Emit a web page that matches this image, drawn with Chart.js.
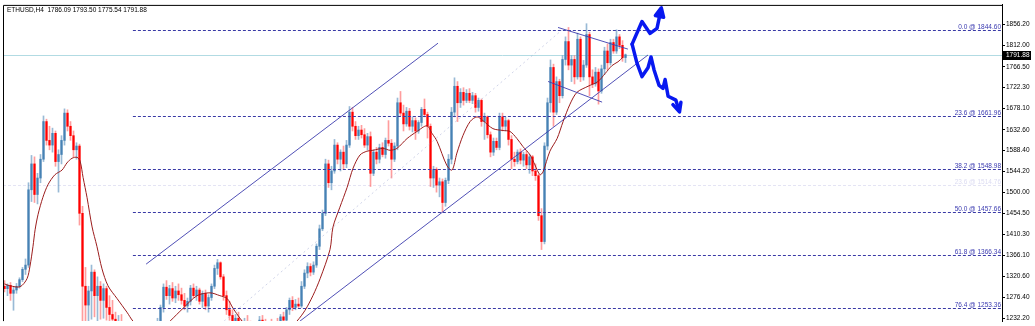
<!DOCTYPE html>
<html>
<head>
<meta charset="utf-8">
<script src="https://cdn.jsdelivr.net/npm/chart.js@4.4.1/dist/chart.umd.min.js"></script>
<style>
  html, body { margin: 0; padding: 0; background: #ffffff; }
  #wrap { width: 1035px; height: 326px; }
</style>
</head>
<body>
<div id="wrap"><canvas id="priceChart" width="1035" height="326"></canvas></div>
<script>

// ---- data ----

const symbolTitle = "ETHUSD,H4  1786.09 1793.50 1775.54 1791.88";

const tickValues = [1856.20, 1812.00, 1766.50, 1722.30, 1678.10, 1632.60, 1588.40, 1544.20,
    1500.00, 1454.50, 1410.30, 1366.10, 1320.60, 1276.40, 1232.20];

const lastPrice = 1791.88;

const candleOpen = [
    1300,1295,1302,1285,1292,1300,1314,1336,1345,1505,1560,1495,1530,1570,1650,1610,1600,1625,1565,1580,
    1610,1668,1640,1620,1590,1598,1455,1300,1260,1290,1330,1280,1300,1270,1295,1255,1240,1230,1215,1225,
    1205,1195,1185,1170,1190,1205,1178,1192,1212,1188,1200,1218,1225,1255,1298,1280,1295,1275,1290,1282,
    1270,1258,1268,1296,1280,1292,1268,1285,1258,1276,1300,1338,1350,1320,1280,1250,1238,1222,1232,1215,
    1205,1225,1212,1200,1190,1205,1228,1218,1208,1215,1210,1220,1215,1235,1228,1250,1270,1255,1262,1258,
    1300,1328,1342,1330,1345,1385,1422,1455,1560,1520,1545,1600,1570,1585,1560,1600,1670,1640,1620,1632,
    1622,1600,1618,1540,1585,1570,1595,1580,1610,1604,1570,1598,1690,1668,1645,1672,1640,1652,1630,1648,
    1676,1665,1640,1530,1548,1515,1522,1478,1525,1570,1670,1725,1690,1712,1695,1710,1695,1705,1680,1695,
    1650,1660,1622,1585,1608,1595,1660,1640,1652,1612,1570,1565,1585,1568,1580,1558,1575,1545,1535,1450,
    1395,1598,1690,1765,1670,1735,1705,1782,1820,1770,1782,1745,1825,1745,1770,1835,1745,1730,1755,1715,
    1762,1800,1775,1818,1800,1830,1812,1786.09
];

const candleHigh = [
    1312,1305,1308,1298,1306,1318,1340,1358,1520,1578,1575,1540,1580,1662,1655,1640,1636,1630,1590,1620,
    1677,1675,1650,1630,1605,1602,1470,1340,1300,1345,1335,1320,1310,1305,1300,1280,1270,1245,1238,1240,
    1220,1212,1200,1195,1215,1210,1198,1220,1218,1205,1225,1232,1260,1305,1312,1302,1308,1300,1305,1296,
    1285,1275,1302,1305,1300,1296,1290,1292,1282,1305,1345,1357,1352,1325,1290,1268,1250,1240,1245,1228,
    1232,1238,1226,1215,1210,1236,1238,1230,1222,1230,1225,1232,1240,1245,1255,1275,1278,1272,1275,1310,
    1335,1350,1348,1352,1390,1430,1462,1570,1568,1555,1612,1605,1590,1598,1610,1682,1680,1650,1640,1642,
    1635,1625,1628,1590,1595,1602,1605,1615,1652,1612,1605,1700,1714,1685,1680,1678,1660,1658,1652,1680,
    1698,1670,1645,1555,1552,1530,1528,1530,1580,1680,1743,1735,1720,1722,1718,1720,1712,1710,1700,1698,
    1668,1662,1628,1615,1615,1668,1668,1660,1655,1620,1585,1590,1592,1585,1588,1580,1578,1560,1538,1465,
    1605,1700,1781,1772,1745,1740,1790,1830,1850,1790,1790,1838,1830,1780,1858,1840,1760,1765,1762,1770,
    1808,1815,1825,1825,1845,1835,1822,1793.5
];

const candleLow = [
    1288,1280,1270,1249,1285,1296,1310,1325,1340,1480,1478,1475,1520,1565,1600,1590,1585,1555,1500,1560,
    1600,1630,1610,1575,1570,1430,1220,1225,1215,1230,1235,1222,1230,1232,1228,1212,1205,1195,1190,1185,
    1180,1175,1160,1155,1180,1170,1165,1185,1180,1172,1195,1205,1215,1245,1272,1262,1268,1265,1270,1262,
    1250,1245,1260,1275,1270,1262,1255,1250,1245,1270,1295,1325,1315,1270,1240,1228,1215,1205,1210,1195,
    1200,1208,1190,1180,1182,1198,1212,1200,1195,1205,1198,1208,1210,1220,1225,1240,1248,1250,1255,1255,
    1295,1318,1322,1325,1340,1378,1418,1450,1510,1505,1540,1560,1545,1548,1552,1595,1630,1612,1612,1615,
    1595,1590,1512,1535,1560,1562,1575,1572,1598,1530,1565,1590,1662,1630,1640,1632,1628,1612,1625,1640,
    1660,1615,1512,1510,1500,1490,1458,1470,1518,1560,1660,1650,1680,1685,1690,1690,1688,1670,1672,1640,
    1612,1615,1575,1578,1590,1590,1630,1630,1600,1550,1555,1560,1560,1555,1550,1540,1535,1525,1440,1378,
    1390,1590,1670,1640,1665,1690,1700,1770,1760,1735,1730,1740,1735,1738,1765,1705,1722,1725,1687,1710,
    1750,1760,1770,1795,1795,1805,1778,1775.54
];

const candleClose = [
    1295,1302,1285,1292,1300,1314,1336,1345,1505,1560,1495,1530,1570,1650,1610,1600,1625,1565,1580,1610,
    1668,1640,1620,1590,1598,1455,1300,1260,1290,1330,1280,1300,1270,1295,1255,1240,1230,1215,1225,1205,
    1195,1185,1170,1190,1205,1178,1192,1212,1188,1200,1218,1225,1255,1298,1280,1295,1275,1290,1282,1270,
    1258,1268,1296,1280,1292,1268,1285,1258,1276,1300,1338,1350,1320,1280,1250,1238,1222,1232,1215,1205,
    1225,1212,1200,1190,1205,1228,1218,1208,1215,1210,1220,1215,1235,1228,1250,1270,1255,1262,1258,1300,
    1328,1342,1330,1345,1385,1422,1455,1560,1520,1545,1600,1570,1585,1560,1600,1670,1640,1620,1632,1622,
    1600,1618,1540,1585,1570,1595,1580,1610,1604,1570,1598,1690,1668,1645,1672,1640,1652,1630,1648,1676,
    1665,1640,1530,1548,1515,1522,1478,1525,1570,1670,1725,1690,1712,1695,1710,1695,1705,1680,1695,1650,
    1660,1622,1585,1608,1595,1660,1640,1652,1612,1570,1565,1585,1568,1580,1558,1575,1545,1535,1450,1395,
    1598,1690,1765,1670,1735,1705,1782,1820,1770,1782,1745,1825,1745,1770,1835,1745,1730,1755,1715,1762,
    1800,1775,1818,1800,1830,1812,1786.09,1791.88
];

// moving average, read at the bar positions where it could be seen
const maBar = [0, 1.8, 5.2, 7.5, 8.5, 9.5, 10.2, 11.2, 12.8, 14.5, 16.8, 19.2, 20.8, 22.5, 24.2, 25.2,
    26.2, 27.5, 29.2, 30.8, 32.5, 34.5, 37.5, 40.8, 42.8, 48.5, 55.2, 59.5, 64.2, 68.5, 71.8, 74.2,
    76.2, 78.5, 81.8, 88.5, 95.2, 97.5, 100.2, 102.8, 105.2, 108.5, 109.5, 111.8, 114.2, 116.2, 118.5,
    120.8, 122.8, 126.2, 128.5, 130.8, 134.2, 137.5, 140.8, 142.5, 144.2, 147.5, 149.2, 150.8, 152.8,
    155.2, 157.5, 159.5, 162.8, 166.2, 168.5, 170.8, 172.8, 175.2, 176.8, 178.5, 179.5, 181.8, 184.2,
    186.2, 188.5, 190.8, 194.5, 197.8, 200.2, 202.5, 204.5, 206.2];
const maValue = [1305, 1301, 1299, 1316, 1343, 1385, 1420, 1453, 1489, 1516, 1537, 1547, 1562, 1572, 1574, 1566,
    1531, 1489, 1426, 1385, 1337, 1301, 1274, 1245, 1226, 1186, 1226, 1253, 1280, 1286, 1280, 1274,
    1253, 1232, 1207, 1197, 1213, 1226, 1249, 1280, 1316, 1378, 1426, 1468, 1510, 1551, 1579,
    1587, 1589, 1593, 1589, 1593, 1614, 1629, 1641, 1625, 1608, 1556, 1547, 1583, 1620,
    1650, 1660, 1652, 1635, 1631, 1629, 1614, 1597, 1579, 1558, 1537, 1543, 1587, 1614,
    1650, 1687, 1712, 1725, 1735, 1752, 1769, 1777, 1787];

// fibonacci retracement levels
const fibRatio = ["0.0", "23.6", "38.2", "50.0", "61.8", "76.4"];
const fibLevel = [1844.60, 1661.96, 1548.98, 1457.66, 1366.34, 1253.36];
const fibStartBar = 42.8;
const faintFibRatio = "23.6";
const faintFibLevel = 1514.76;

// trend lines as [bar, price] pairs
const channelUpper = [[47.2, 1347], [144.5, 1816.6]];
const channelLower = [[98.5, 1226], [214.5, 1791.5]];
const fibBaseline = [[73.2, 1226], [185.8, 1844.6]];
const wedgeUpper = [[184.5, 1850], [207.8, 1804]];
const wedgeLower = [[181.2, 1735.2], [199.2, 1691.3]];

// hand drawn arrows
const arrowUp = [[209.2, 1814.5], [212.5, 1862.5], [215.2, 1837.4], [217.5, 1847.9], [218.8, 1887.5]];
const arrowDown = [[209.2, 1814.5], [210.8, 1774.8], [212.5, 1745.6], [214.5, 1764.4], [215.5, 1787.3],
    [216.5, 1760.2], [218.2, 1726.8], [219.5, 1720.6], [220.2, 1739.3], [221.2, 1703.9],
    [223.8, 1695.5], [224.8, 1674.6]];

const totalSlots = 333;

// ---- chart ----

const bullColor = "#4682b4";
const bearColor = "#ff0000";

const bodyColors = candleClose.map((c, i) => c >= candleOpen[i] ? bullColor : bearColor);
const wickColors = candleClose.map((c, i) => c >= candleOpen[i] ? "rgba(70,130,180,0.55)" : "rgba(255,60,60,0.5)");

const wickData = candleLow.map((l, i) => ({ x: i, y: [l, candleHigh[i]] }));
const bodyData = candleOpen.map((o, i) => ({ x: i, y: [o, candleClose[i]] }));
const maData = maBar.map((b, k) => ({ x: b, y: maValue[k] }));

const uiFont = '"Liberation Sans", Arial, sans-serif';

function linePath(ctx, chart, pts) {
    const x = chart.scales.x, y = chart.scales.y;
    ctx.beginPath();
    pts.forEach((p, k) => {
        const px = x.getPixelForValue(p[0]);
        const py = y.getPixelForValue(p[1]);
        if (k === 0) ctx.moveTo(px, py); else ctx.lineTo(px, py);
    });
    ctx.stroke();
}

function arrowHead(ctx, chart, pts, filled) {
    const x = chart.scales.x, y = chart.scales.y;
    const a = pts[pts.length - 2], b = pts[pts.length - 1];
    const x1 = x.getPixelForValue(a[0]), y1 = y.getPixelForValue(a[1]);
    const x2 = x.getPixelForValue(b[0]), y2 = y.getPixelForValue(b[1]);
    const ang = Math.atan2(y2 - y1, x2 - x1);
    const len = 8;
    ctx.beginPath();
    ctx.moveTo(x2 - len * Math.cos(ang - 0.55), y2 - len * Math.sin(ang - 0.55));
    ctx.lineTo(x2 + 2 * Math.cos(ang), y2 + 2 * Math.sin(ang));
    ctx.lineTo(x2 - len * Math.cos(ang + 0.55), y2 - len * Math.sin(ang + 0.55));
    if (filled) {
        ctx.closePath();
        ctx.fill();
    }
    ctx.stroke();
}

const backdrop = {
    id: "backdrop",
    beforeDatasetsDraw(chart) {
        const { ctx, chartArea: a, scales: { y } } = chart;
        ctx.save();
        // faint second fib level
        ctx.strokeStyle = "#e4e4f4";
        ctx.lineWidth = 1;
        ctx.setLineDash([3, 2]);
        const fy = Math.round(y.getPixelForValue(faintFibLevel)) + 0.5;
        ctx.beginPath();
        ctx.moveTo(a.left, fy);
        ctx.lineTo(a.right, fy);
        ctx.stroke();
        ctx.setLineDash([]);
        ctx.fillStyle = "#dcdcf2";
        ctx.font = "6.5px " + uiFont;
        ctx.textAlign = "right";
        ctx.textBaseline = "bottom";
        ctx.fillText(faintFibRatio + " @ " + faintFibLevel.toFixed(2), a.right - 1, fy - 0.5);
        // bid line
        const py = Math.round(y.getPixelForValue(lastPrice)) + 0.5;
        ctx.strokeStyle = "#b2dbe3";
        ctx.beginPath();
        ctx.moveTo(a.left, py);
        ctx.lineTo(a.right, py);
        ctx.stroke();
        ctx.restore();
    }
};

const overlay = {
    id: "overlay",
    afterDatasetsDraw(chart) {
        const { ctx, chartArea: a, scales: { x, y } } = chart;
        ctx.save();
        ctx.beginPath();
        ctx.rect(a.left, a.top, a.right - a.left, a.bottom - a.top);
        ctx.clip();

        // fib levels
        ctx.lineWidth = 1;
        ctx.font = "6.5px " + uiFont;
        ctx.textAlign = "right";
        ctx.textBaseline = "bottom";
        const fx = x.getPixelForValue(fibStartBar);
        fibLevel.forEach((lv, k) => {
            const ly = Math.round(y.getPixelForValue(lv)) + 0.5;
            ctx.strokeStyle = "#3a3aa6";
            ctx.setLineDash([3, 2]);
            ctx.beginPath();
            ctx.moveTo(fx, ly);
            ctx.lineTo(a.right, ly);
            ctx.stroke();
            ctx.setLineDash([]);
            ctx.fillStyle = "#3a3ab0";
            ctx.fillText(fibRatio[k] + " @ " + lv.toFixed(2), a.right - 1, ly - 0.5);
        });

        // fib baseline
        ctx.strokeStyle = "rgba(150,160,205,0.45)";
        ctx.setLineDash([2, 3]);
        linePath(ctx, chart, fibBaseline);
        ctx.setLineDash([]);

        // channel and wedge
        ctx.strokeStyle = "#3c3cae";
        ctx.lineWidth = 0.9;
        linePath(ctx, chart, channelUpper);
        linePath(ctx, chart, channelLower);
        linePath(ctx, chart, wedgeUpper);
        linePath(ctx, chart, wedgeLower);

        // arrows
        ctx.strokeStyle = "#0818f0";
        ctx.fillStyle = "#0818f0";
        ctx.lineWidth = 3.5;
        ctx.lineJoin = "round";
        ctx.lineCap = "round";
        linePath(ctx, chart, arrowUp);
        linePath(ctx, chart, arrowDown);
        arrowHead(ctx, chart, arrowUp, true);
        arrowHead(ctx, chart, arrowDown, false);
        ctx.restore();
    },
    afterDraw(chart) {
        const { ctx, chartArea: a, scales: { y } } = chart;
        ctx.save();
        // frame
        ctx.strokeStyle = "#000000";
        ctx.lineWidth = 1;
        ctx.beginPath();
        ctx.moveTo(a.left + 0.5, a.bottom);
        ctx.lineTo(a.left + 0.5, a.top + 0.5);
        ctx.lineTo(a.right + 0.5, a.top + 0.5);
        ctx.lineTo(a.right + 0.5, a.bottom);
        ctx.stroke();
        // title
        ctx.fillStyle = "#000000";
        ctx.font = "6.5px " + uiFont;
        ctx.textAlign = "left";
        ctx.textBaseline = "middle";
        ctx.fillText(symbolTitle, a.left + 4, 10);
        // bid price box
        const py = Math.round(y.getPixelForValue(lastPrice));
        ctx.fillStyle = "#000000";
        ctx.fillRect(a.right + 1, py - 4, 28, 9);
        ctx.fillStyle = "#ffffff";
        ctx.fillText(lastPrice.toFixed(2), a.right + 4, py + 0.5);
        ctx.restore();
    }
};

const ctx = document.getElementById("priceChart");

new Chart(ctx, {
    type: "bar",
    data: {
        datasets: [
            {
                type: "line",
                label: "MA",
                data: maData,
                borderColor: "#9b1c1c",
                borderWidth: 1,
                pointRadius: 0,
                tension: 0.3,
                order: 0
            },
            {
                label: "body",
                data: bodyData,
                backgroundColor: bodyColors,
                barThickness: 1.6,
                minBarLength: 1,
                grouped: false,
                order: 1
            },
            {
                label: "wick",
                data: wickData,
                backgroundColor: wickColors,
                barThickness: 1,
                grouped: false,
                order: 2
            }
        ]
    },
    options: {
        responsive: false,
        animation: false,
        devicePixelRatio: 1,
        layout: { padding: { left: 3, top: 4, right: 0, bottom: 0 } },
        plugins: {
            legend: { display: false },
            tooltip: { enabled: false }
        },
        scales: {
            x: {
                type: "linear",
                display: false,
                offset: false,
                min: -0.5,
                max: totalSlots - 0.5
            },
            y: {
                position: "right",
                min: 1225.94,
                max: 1897.94,
                afterBuildTicks: (s) => { s.ticks = tickValues.map(v => ({ value: v })); },
                afterFit: (s) => { s.width = 33; },
                grid: { drawOnChartArea: false, tickLength: 3, color: "#000000" },
                border: { display: true, color: "#000000" },
                ticks: {
                    autoSkip: false,
                    padding: 1,
                    color: "#000000",
                    font: { family: "Liberation Sans", size: 6.5 },
                    callback: (v) => Number(v).toFixed(2)
                }
            }
        }
    },
    plugins: [backdrop, overlay]
});

</script>
</body>
</html>
